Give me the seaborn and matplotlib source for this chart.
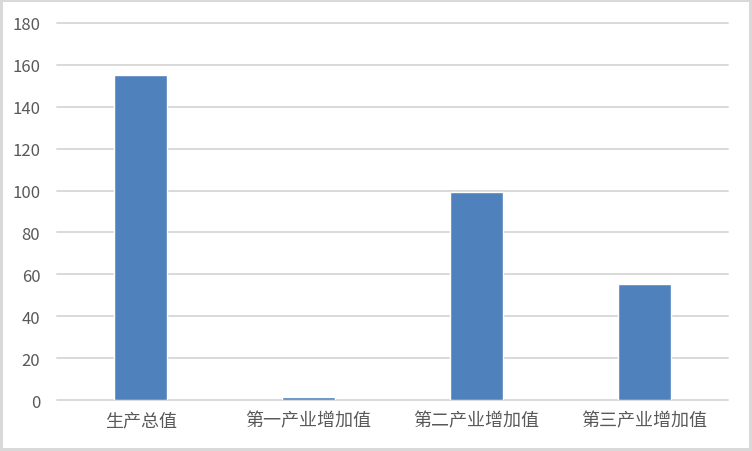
import matplotlib
matplotlib.use('Agg')
import matplotlib.pyplot as plt
import seaborn as sns
import pandas as pd

categories = ['生产总值', '第一产业增加值', '第二产业增加值', '第三产业增加值']
values = [155.1, 1.5, 99.5, 55.3]
y_ticks = [0, 20, 40, 60, 80, 100, 120, 140, 160, 180]

sns.set_style('white')
plt.rcParams['font.family'] = ['Noto Sans CJK SC', 'DejaVu Sans']

df = pd.DataFrame({'item': categories, 'value': values})

fig = plt.figure(figsize=(7.52, 4.52), dpi=100)
fig.patch.set_edgecolor('#D9D9D9')
fig.patch.set_linewidth(3)
ax = fig.add_axes([0.0758, 0.1128, 0.8922, 0.8342])

sns.barplot(data=df, x='item', y='value', color='#4F81BD', saturation=1,
            width=0.316, ax=ax, zorder=3)

ax.set_ylim(0, 180)
ax.set_yticks(y_ticks)
ax.set_xlim(-0.5, 3.5)
ax.yaxis.grid(True, color='#D9D9D9', linewidth=1.4, zorder=0)
for gl in ax.get_ygridlines():
    gl.set_clip_on(False)
ax.set_axisbelow(True)
for s in ax.spines.values():
    s.set_visible(False)
ax.set_xlabel('')
ax.set_ylabel('')
ax.tick_params(axis='both', length=0, colors='#595959')
ax.tick_params(axis='y', labelsize=12, pad=12)
ax.tick_params(axis='x', labelsize=13, pad=8)

fig.savefig('out.png', dpi=100, edgecolor=fig.get_edgecolor())
